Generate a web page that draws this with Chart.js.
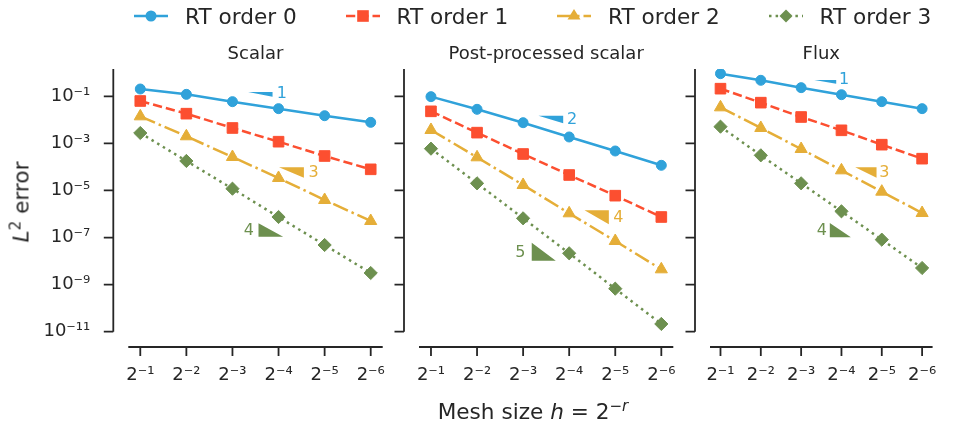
<!DOCTYPE html>
<html>
<head>
<meta charset="utf-8">
<script src="https://cdn.jsdelivr.net/npm/chart.js@4.4.1/dist/chart.umd.min.js"></script>
<style>
  html, body { margin: 0; padding: 0; background: #fff; }
  #fig { position: relative; width: 971px; height: 425px; font-family: 'DejaVu Sans', sans-serif; color: #262626; overflow: hidden; }
  #fig canvas { position: absolute; left: 0; top: 0; }
  .leg { position: absolute; top: 5px; height: 22px; display: flex; align-items: center; font-size: 21.6px; white-space: nowrap; }
  .leg svg { margin-right: 17px; }
  #xlabel { position: absolute; left: 533px; top: 411px; transform: translate(-50%, -50%); font-size: 21.6px; white-space: nowrap; }
  #ylabel { position: absolute; left: 21px; top: 202px; transform: translate(-50%, -50%) rotate(-90deg); font-size: 21.6px; white-space: nowrap; }
  .sup { font-size: 70%; position: relative; top: -0.55em; }
</style>
</head>
<body>
<div id="fig">
  <canvas id="scalar" width="971" height="425"></canvas>
  <canvas id="post" width="971" height="425"></canvas>
  <canvas id="flux" width="971" height="425"></canvas>
  <div id="legend"></div>
  <div id="xlabel">Mesh size <i>h</i> = 2<span class="sup">−<i>r</i></span></div>
  <div id="ylabel"><i>L</i><span class="sup">2</span> error</div>
</div>
<script>
// mesh size h = 2^-r, r = 1..6
const H_EXP = [1, 2, 3, 4, 5, 6];
const X_TICK_LABELS = ['2⁻¹', '2⁻²', '2⁻³', '2⁻⁴', '2⁻⁵', '2⁻⁶'];
const Y_TICKS = [1e-1, 1e-3, 1e-5, 1e-7, 1e-9, 1e-11];
const Y_TICK_LABELS = ['10⁻¹', '10⁻³', '10⁻⁵', '10⁻⁷', '10⁻⁹', '10⁻¹¹'];
const SERIES_NAMES = ['RT order 0', 'RT order 1', 'RT order 2', 'RT order 3'];
const PANEL_TITLES = ['Scalar', 'Post-processed scalar', 'Flux'];

// L2 errors
const scalarOrder0 = [0.204, 0.121, 0.0592, 0.0299, 0.0150, 0.00783];
const scalarOrder1 = [0.0632, 0.0183, 0.00451, 0.00118, 2.91e-4, 7.91e-5];
const scalarOrder2 = [0.0141, 2.0e-3, 2.64e-4, 3.39e-5, 3.94e-6, 5.05e-7];
const scalarOrder3 = [2.76e-3, 1.79e-4, 1.19e-5, 7.46e-7, 4.82e-8, 3.12e-9];

const postOrder0 = [0.0966, 0.0280, 7.57e-3, 1.87e-3, 4.75e-4, 1.17e-4];
const postOrder1 = [0.0230, 2.86e-3, 3.54e-4, 4.54e-5, 6.01e-6, 7.46e-7];
const postOrder2 = [3.71e-3, 2.56e-4, 1.71e-5, 1.07e-6, 7.13e-8, 4.47e-9];
const postOrder3 = [5.97e-4, 2.01e-5, 6.55e-7, 2.14e-8, 6.73e-10, 2.13e-11];

const fluxOrder0 = [0.916, 0.478, 0.233, 0.117, 0.0592, 0.0299];
const fluxOrder1 = [0.211, 0.0537, 0.0132, 3.59e-3, 8.81e-4, 2.24e-4];
const fluxOrder2 = [0.0340, 4.51e-3, 5.78e-4, 7.16e-5, 8.89e-6, 1.10e-6];
const fluxOrder3 = [5.13e-3, 3.11e-4, 2.01e-5, 1.30e-6, 8.13e-8, 5.08e-9];

// convergence-rate triangles: x span (r), y span (error), label anchor
const scalarSlopes = [
  { rate: '1', series: 0, kind: 'upper', x: [3.34, 3.87], y: [0.152, 0.0962], at: [4.07, 0.131] },
  { rate: '3', series: 2, kind: 'upper', x: [4.01, 4.55], y: [9.64e-5, 3.48e-5], at: [4.76, 5.79e-5] },
  { rate: '4', series: 3, kind: 'lower', x: [3.565, 4.10], y: [4.03e-7, 1.09e-7], at: [3.354, 1.99e-7] }
];
const postSlopes = [
  { rate: '2', series: 0, kind: 'upper', x: [3.333, 3.87], y: [0.0150, 7.13e-3], at: [4.061, 0.0101] },
  { rate: '4', series: 2, kind: 'upper', x: [4.333, 4.861], y: [1.44e-6, 3.66e-7], at: [5.067, 6.76e-7] },
  { rate: '5', series: 3, kind: 'lower', x: [3.187, 3.709], y: [6.04e-8, 1.04e-8], at: [2.941, 2.21e-8] }
];
const fluxSlopes = [
  { rate: '1', series: 0, kind: 'upper', x: [3.326, 3.87], y: [0.493, 0.343], at: [4.065, 0.493] },
  { rate: '3', series: 2, kind: 'upper', x: [4.341, 4.87], y: [9.64e-5, 3.48e-5], at: [5.065, 5.52e-5] },
  { rate: '4', series: 3, kind: 'lower', x: [3.711, 4.233], y: [4.15e-7, 1.02e-7], at: [3.511, 1.94e-7] }
];

const COLORS = ['#30a2da', '#fc4f30', '#e5ae38', '#6d904f'];
const DASHES = [[], [9.25, 4], [16, 4, 2.5, 4], [2.5, 4.1]];
const MARKERS = ['circle', 'rect', 'triangle', 'rectRot'];
const RADII = [5, 7.5, 7, 6.6];
const INK = '#262626';
const FONT = "'DejaVu Sans', sans-serif";

// spines are pulled away from the data area (seaborn despine offset look)
const offsetAxes = {
  id: 'offsetAxes',
  afterDraw(chart, args, opts) {
    const { ctx, chartArea: a, scales: { x, y } } = chart;
    const sx = a.left - 15, sy = a.bottom + 15.3;
    ctx.save();
    ctx.strokeStyle = INK;
    ctx.lineWidth = 1.8;
    ctx.beginPath();
    ctx.moveTo(sx, a.top); ctx.lineTo(sx, a.bottom);
    ctx.moveTo(a.left, sy); ctx.lineTo(a.right, sy);
    Y_TICKS.forEach(v => {
      const p = y.getPixelForValue(v);
      ctx.moveTo(sx - 9.5, p); ctx.lineTo(sx, p);
    });
    H_EXP.forEach(v => {
      const p = x.getPixelForValue(v);
      ctx.moveTo(p, sy); ctx.lineTo(p, sy + 9);
    });
    ctx.stroke();

    ctx.font = '16px ' + FONT;
    ctx.textAlign = 'center';
    ctx.textBaseline = 'middle';
    (opts.slopes || []).forEach(s => {
      ctx.fillStyle = COLORS[s.series];
      ctx.fillText(s.rate, x.getPixelForValue(s.at[0]), y.getPixelForValue(s.at[1]));
    });
    ctx.restore();
  }
};

function triangle(s) {
  const [x0, x1] = s.x, [yHi, yLo] = s.y;
  const pts = s.kind === 'upper'
    ? [{ x: x0, y: yHi }, { x: x1, y: yHi }, { x: x1, y: yLo }]
    : [{ x: x0, y: yHi }, { x: x0, y: yLo }, { x: x1, y: yLo }];
  return {
    label: 'rate ' + s.rate,
    data: pts,
    fill: 'shape',
    backgroundColor: COLORS[s.series],
    borderWidth: 0,
    pointRadius: 0,
    tension: 0,
    order: 5
  };
}

function makePanel(id, title, series, slopes, left, right, showY) {
  const datasets = series.map((vals, i) => ({
    label: SERIES_NAMES[i],
    data: H_EXP.map((h, k) => ({ x: h, y: vals[k] })),
    borderColor: COLORS[i],
    backgroundColor: COLORS[i],
    borderWidth: 2.5,
    borderDash: DASHES[i],
    pointStyle: MARKERS[i],
    pointRadius: RADII[i],
    pointBorderWidth: 1,
    pointBackgroundColor: COLORS[i],
    pointBorderColor: COLORS[i],
    fill: false,
    tension: 0,
    order: 1
  })).concat(slopes.map(triangle));

  return new Chart(document.getElementById(id), {
    type: 'line',
    data: { datasets },
    options: {
      responsive: false,
      animation: false,
      devicePixelRatio: 1,
      layout: { padding: { left: 0, top: 0, bottom: 0, right: 971 - right } },
      plugins: {
        legend: { display: false },
        tooltip: { enabled: false },
        title: {
          display: true, text: title, fullSize: false, color: INK,
          font: { family: FONT, size: 18, weight: 'normal' },
          padding: { top: 43.5, bottom: 3.9 }
        },
        offsetAxes: { slopes }
      },
      scales: {
        x: {
          type: 'linear', min: 0.74, max: 6.26, bounds: 'data',
          afterBuildTicks: s => { s.ticks = H_EXP.map(v => ({ value: v })); },
          afterFit: s => { s.height = 425 - 331.7; },
          grid: { display: false, drawTicks: false },
          border: { display: false },
          ticks: {
            color: INK, padding: 33, maxRotation: 0, autoSkip: false,
            font: { family: FONT, size: 18 },
            callback: (v, i) => X_TICK_LABELS[i]
          }
        },
        y: {
          type: 'logarithmic', min: 1e-11, max: 1.445, bounds: 'data',
          afterBuildTicks: s => { s.ticks = Y_TICKS.map(v => ({ value: v })); },
          afterFit: s => { s.width = left; },
          grid: { display: false, drawTicks: false },
          border: { display: false },
          ticks: {
            display: showY, color: INK, padding: 38, autoSkip: false,
            font: { family: FONT, size: 18 },
            callback: (v, i) => Y_TICK_LABELS[i]
          }
        }
      }
    },
    plugins: [offsetAxes]
  });
}

makePanel('scalar', PANEL_TITLES[0], [scalarOrder0, scalarOrder1, scalarOrder2, scalarOrder3], scalarSlopes, 128.3, 382.7, true);
makePanel('post', PANEL_TITLES[1], [postOrder0, postOrder1, postOrder2, postOrder3], postSlopes, 419, 673.3, false);
makePanel('flux', PANEL_TITLES[2], [fluxOrder0, fluxOrder1, fluxOrder2, fluxOrder3], fluxSlopes, 710, 964, false);

// legend across the top
const legend = document.getElementById('legend');
const markerSvg = (i, c) => {
  const col = COLORS[i];
  if (i === 0) return `<circle cx="${c}" cy="11" r="5.5" fill="${col}"/>`;
  if (i === 1) return `<rect x="${c - 5.8}" y="5.2" width="11.6" height="11.6" fill="${col}"/>`;
  if (i === 2) return `<polygon points="${c},4 ${c + 6.5},14.5 ${c - 6.5},14.5" fill="${col}"/>`;
  return `<polygon points="${c},4.5 ${c + 6.5},11 ${c},17.5 ${c - 6.5},11" fill="${col}"/>`;
};
SERIES_NAMES.forEach((name, i) => {
  const item = document.createElement('div');
  item.className = 'leg';
  item.style.left = (134 + i * 211.5) + 'px';
  item.innerHTML = `<svg width="34" height="22"><line x1="0" y1="11" x2="34" y2="11" stroke="${COLORS[i]}" stroke-width="2.5" stroke-dasharray="${DASHES[i].join(' ') || 'none'}"/>${markerSvg(i, 17)}</svg><span>${name}</span>`;
  legend.appendChild(item);
});
</script>
</body>
</html>
